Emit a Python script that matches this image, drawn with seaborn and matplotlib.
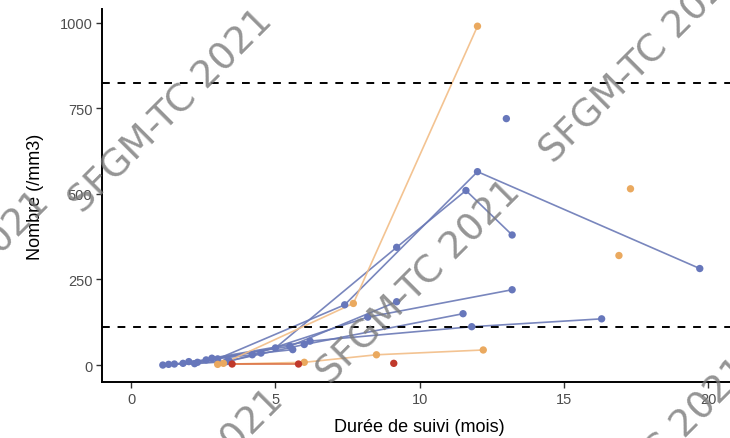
import matplotlib
matplotlib.use("Agg")
import matplotlib.pyplot as plt
import seaborn as sns
import pandas as pd

# ---- data ----
patient = ["B1"] * 6 + ["B2"] * 5 + ["B3"] * 4 + ["B4"] * 3 + ["B5"] * 4 + ["B6"] * 4 + ["B7"] + ["B8"] * 5 \
    + ["O1"] * 3 + ["O2"] * 4 + ["O3"] + ["O4"] + ["R1"] * 2 + ["R2"]
group = ["bleu"] * 32 + ["orange"] * 9 + ["rouge"] * 3
months = [1.1, 2.3, 5.0, 9.2, 11.6, 13.2,
          1.5, 3.0, 7.4, 12.0, 19.7,
          2.0, 4.2, 8.2, 13.2,
          2.6, 5.5, 9.2,
          1.8, 3.4, 6.0, 11.5,
          2.8, 6.2, 11.8, 16.3,
          13.0,
          1.3, 2.2, 3.3, 4.5, 5.6,
          3.2, 7.7, 12.0,
          3.0, 6.0, 8.5, 12.2,
          16.9,
          17.3,
          3.5, 5.8,
          9.1]
counts = [0, 8, 50, 344, 510, 380,
          3, 18, 176, 565, 282,
          10, 30, 140, 220,
          15, 55, 185,
          5, 12, 60, 150,
          20, 70, 112, 135,
          720,
          2, 4, 10, 35, 45,
          5, 180, 990,
          2, 8, 30, 44,
          320,
          515,
          3, 3,
          5]
seuils = [825, 110]
x_ticks = [0, 5, 10, 15, 20]
y_ticks = [0, 250, 500, 750, 1000]
palette_lines = {"bleu": "#6a79b6", "orange": "#f2bd86", "rouge": "#d9683a"}
palette_pts = {"bleu": "#6777bb", "orange": "#eaa95f", "rouge": "#c0392b"}

df = pd.DataFrame({"patient": patient, "groupe": group, "mois": months, "nombre": counts})

sns.set_theme(style="white")
plt.rcParams["font.family"] = ["Liberation Sans", "DejaVu Sans"]

fig = plt.figure(figsize=(7.3, 4.39), dpi=100)
ax = fig.add_axes([0.140, 0.1276, 0.870, 0.849])

sns.lineplot(data=df, x="mois", y="nombre", hue="groupe", units="patient",
             estimator=None, palette=palette_lines, linewidth=1.2, alpha=0.9,
             legend=False, ax=ax, sort=False)
sns.scatterplot(data=df, x="mois", y="nombre", hue="groupe", palette=palette_pts,
                s=28, linewidth=0, legend=False, ax=ax, zorder=3)

for s in seuils:
    ax.axhline(s, color="black", linestyle=(0, (4, 4)), linewidth=1.4, zorder=2)

ax.set_xlim(-1, 21)
ax.set_ylim(-49.5, 1039.5)
ax.set_xticks(x_ticks)
ax.set_yticks(y_ticks)
ax.set_xlabel("Durée de suivi (mois)", fontsize=13, color="black", labelpad=9)
ax.set_ylabel("Nombre (/mm3)", fontsize=13, color="black", labelpad=11)
ax.tick_params(axis="both", which="both", length=4, width=1, color="#333333",
               labelsize=10.5, labelcolor="#4d4d4d", pad=3,
               bottom=True, left=True)
for side in ["top", "right"]:
    ax.spines[side].set_visible(False)
for side in ["left", "bottom"]:
    ax.spines[side].set_color("black")
    ax.spines[side].set_linewidth(1.4)

# watermark
wm = "SFGM-TC 2021"
wm_pos = [(0.235, 0.745), (0.575, 0.355), (0.88, 0.86), (0.89, -0.05), (0.25, -0.12), (-0.07, 0.33)]
for (fx, fy) in wm_pos:
    fig.text(fx, fy, wm, rotation=45, ha="center", va="center", fontsize=27,
             family=["Liberation Sans Narrow", "DejaVu Sans"], color="#7a7a7a",
             alpha=0.8, zorder=10, rotation_mode="anchor")

fig.savefig("out.png", dpi=100)
